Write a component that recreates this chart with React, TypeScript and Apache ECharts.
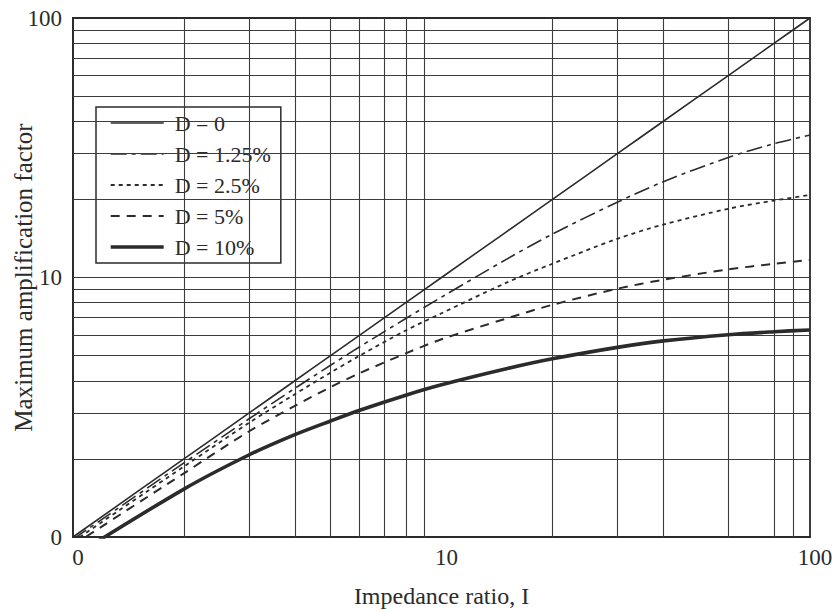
import React, { useEffect, useRef } from "react";
import * as echarts from "echarts";

// Impedance ratio I (x) and maximum amplification factor for each damping ratio D
const impedance = [1, 2, 3, 4, 5, 6, 8, 10, 15, 20, 30, 40, 60, 80, 100];
const ampD0 = [1, 2, 3, 4, 5, 6, 8, 10, 15, 20, 30, 40, 60, 80, 100];
const ampD125 = [0.98, 1.93, 2.85, 3.74, 4.59, 5.41, 6.95, 8.4, 11.75, 14.7, 19.5, 23.4, 29.0, 32.8, 35.4];
const ampD25 = [0.96, 1.87, 2.75, 3.55, 4.3, 5.0, 6.25, 7.28, 9.55, 11.3, 14.1, 16.0, 18.4, 19.8, 20.8];
const ampD5 = [0.93, 1.76, 2.55, 3.2, 3.78, 4.28, 5.1, 5.78, 6.95, 7.85, 9.05, 9.8, 10.75, 11.3, 11.7];
const ampD10 = [0.84, 1.53, 2.07, 2.48, 2.8, 3.08, 3.52, 3.86, 4.45, 4.86, 5.38, 5.7, 6.02, 6.18, 6.28];

const seriesNames = ["D = 0", "D = 1.25%", "D = 2.5%", "D = 5%", "D = 10%"];
const lineWidths = [1.6, 1.6, 1.8, 2, 3.6];
const dashTypes: any[] = ["solid", [16, 5, 4, 5], [4, 4], [9, 7], "solid"];

// Grid lines of the log paper
const xGridValues = [2, 3, 4, 5, 6, 7, 8, 9, 20, 30, 40, 60, 80, 90];
const yGridValues = [2, 3, 4, 5, 6, 7, 8, 9, 10, 20, 30, 40, 50, 60, 70, 80, 90];

// Axis tick labels (the log origin is printed as "0")
const tickLabels: Record<number, string> = { 1: "0", 10: "10", 100: "100" };

const FONT = "'Liberation Serif', 'DejaVu Serif', serif";
const INK = "#2b2b2b";

const pairs = (ys: number[]) => impedance.map((x, i) => [x, ys[i]]);

export default function App() {
  const ref = useRef<HTMLDivElement>(null);

  useEffect(() => {
    if (!ref.current) return;
    const chart = echarts.init(ref.current, undefined, { renderer: "svg" });

    const curve = (i: number, ys: number[]) => ({
      name: seriesNames[i],
      type: "line",
      data: pairs(ys),
      symbol: "none",
      smooth: 0.3,
      z: 5,
      lineStyle: { color: INK, width: lineWidths[i], type: dashTypes[i], cap: "butt" },
      itemStyle: { color: INK },
    });

    chart.setOption({
      animation: false,
      backgroundColor: "#ffffff",
      textStyle: { fontFamily: FONT, color: INK },
      grid: {
        left: 73,
        right: 27,
        top: 18,
        bottom: 75,
        outerBoundsMode: "none",
        containLabel: false,
        show: true,
        borderColor: INK,
        borderWidth: 1.8,
        backgroundColor: "transparent",
      },
      legend: {
        data: seriesNames.map((name, i) => ({
          name,
          lineStyle: { width: Math.min(lineWidths[i], 3.4), type: dashTypes[i], color: INK },
        })),
        orient: "vertical",
        left: 96,
        top: 107,
        backgroundColor: "#ffffff",
        borderColor: INK,
        borderWidth: 1.5,
        padding: [5, 10, 5, 13],
        itemWidth: 53,
        itemHeight: 21,
        itemGap: 9,
        selectedMode: false,
        itemStyle: { opacity: 0 },
        textStyle: {
          fontFamily: FONT,
          fontSize: 22,
          color: INK,
          padding: [0, 0, 0, 6],
        },
      },
      xAxis: {
        type: "log",
        logBase: 10,
        min: 1,
        max: 100,
        name: "Impedance ratio, I",
        nameLocation: "middle",
        nameGap: 47,
        nameMoveOverlap: false,
        nameTextStyle: { fontFamily: FONT, fontSize: 24, color: INK },
        axisLine: { show: true, lineStyle: { color: INK, width: 1.8 } },
        axisTick: { show: false },
        splitLine: { show: false },
        minorSplitLine: { show: false },
        axisLabel: {
          fontFamily: FONT,
          fontSize: 23,
          color: INK,
          margin: 9,
          padding: [0, 0, 0, 10],
          formatter: (v: number) => tickLabels[Math.round(v)] ?? "",
        },
      },
      yAxis: {
        type: "log",
        logBase: 10,
        min: 1,
        max: 100,
        name: "Maximum amplification factor",
        nameLocation: "middle",
        nameGap: 37,
        nameMoveOverlap: false,
        nameTextStyle: { fontFamily: FONT, fontSize: 25, color: INK },
        axisLine: { show: true, lineStyle: { color: INK, width: 1.8 } },
        axisTick: { show: false },
        splitLine: { show: false },
        minorSplitLine: { show: false },
        axisLabel: {
          fontFamily: FONT,
          fontSize: 23,
          color: INK,
          margin: 11,
          formatter: (v: number) => tickLabels[Math.round(v)] ?? "",
        },
      },
      series: [
        {
          name: "grid",
          type: "line",
          data: [[1, 1]],
          symbol: "none",
          lineStyle: { opacity: 0 },
          silent: true,
          z: 1,
          markLine: {
            silent: true,
            symbol: "none",
            label: { show: false },
            lineStyle: { color: "#3c3c3c", width: 1.1, type: "solid" },
            emphasis: { disabled: true },
            data: [
              ...xGridValues.map((v) => ({ xAxis: v })),
              ...yGridValues.map((v) => ({ yAxis: v })),
            ],
          },
        },
        curve(0, ampD0),
        curve(1, ampD125),
        curve(2, ampD25),
        curve(3, ampD5),
        curve(4, ampD10),
      ],
    });

    return () => chart.dispose();
  }, []);

  return (
    <div
      ref={ref}
      style={{ position: "fixed", left: 0, top: 0, width: 837, height: 612, background: "#fff" }}
    />
  );
}
